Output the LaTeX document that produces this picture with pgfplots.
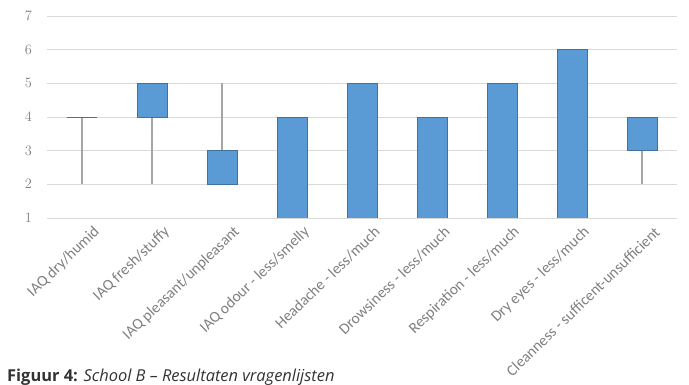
\documentclass[border=0pt]{standalone}
\usepackage{pgfplots}
\pgfplotsset{compat=1.18}
\usepgfplotslibrary{statistics}
\usepackage{fontspec}
\setmainfont{Carlito}
\newfontfamily\capfont{Open Sans}
\definecolor{boxfill}{HTML}{5B9BD5}
\definecolor{boxline}{HTML}{41719C}
\definecolor{whisk}{HTML}{A5A5A5}
\definecolor{gridc}{HTML}{D9D9D9}
\definecolor{lbl}{HTML}{7F7F7F}
\definecolor{capc}{HTML}{333333}
\begin{document}
\begin{tikzpicture}
\useasboundingbox (0,0) rectangle (689bp,385bp);
\begin{axis}[
  at={(47bp,167bp)}, anchor=south west,
  scale only axis, width=630bp, height=202bp,
  xmin=-0.5, xmax=8.5, ymin=1, ymax=7,
  axis line style={draw=none},
  ytick={1,...,7}, ymajorgrids, grid style={gridc, line width=0.8pt},
  xtick={0,...,8},
  xticklabels={IAQ dry/humid, IAQ fresh/stuffy, IAQ pleasant/unpleasant, IAQ odour - less/smelly, Headache - less/much, Drowsiness - less/much, Respiration - less/much, Dry eyes - less/much, Cleanness - sufficent-unsufficient},
  major tick length=0pt,
  tick label style={font=\fontsize{15.5}{17}\selectfont, text=lbl},
  xticklabel style={rotate=44, anchor=east, inner sep=0pt, yshift=-19bp, xshift=3bp},
  yticklabel style={anchor=east, inner sep=0pt, xshift=-15bp},
  boxplot/draw direction=y,
  boxplot/box extend=0.43,
  boxplot/whisker extend=0,
  boxplot/every box/.style={fill=boxfill, draw=boxline, line width=0.8pt},
  boxplot/every whisker/.style={draw=whisk, line width=1.3pt},
  boxplot/every median/.style={draw=boxline, line width=0.8pt},
]
\addplot[boxplot prepared={lower whisker=2, lower quartile=4, median=4, upper quartile=4, upper whisker=4, draw position=0}] coordinates {};
\addplot[boxplot prepared={lower whisker=2, lower quartile=4, median=4, upper quartile=5, upper whisker=5, draw position=1}] coordinates {};
\addplot[boxplot prepared={lower whisker=2, lower quartile=2, median=2, upper quartile=3, upper whisker=5, draw position=2}] coordinates {};
\addplot[boxplot prepared={lower whisker=1, lower quartile=1, median=1, upper quartile=4, upper whisker=4, draw position=3}] coordinates {};
\addplot[boxplot prepared={lower whisker=1, lower quartile=1, median=1, upper quartile=5, upper whisker=5, draw position=4}] coordinates {};
\addplot[boxplot prepared={lower whisker=1, lower quartile=1, median=1, upper quartile=4, upper whisker=4, draw position=5}] coordinates {};
\addplot[boxplot prepared={lower whisker=1, lower quartile=1, median=1, upper quartile=5, upper whisker=5, draw position=6}] coordinates {};
\addplot[boxplot prepared={lower whisker=1, lower quartile=1, median=1, upper quartile=6, upper whisker=6, draw position=7}] coordinates {};
\addplot[boxplot prepared={lower whisker=2, lower quartile=3, median=3, upper quartile=4, upper whisker=4, draw position=8}] coordinates {};
\end{axis}
\node[anchor=base west, inner sep=0pt, text=capc, font=\capfont\fontsize{16.5}{18}\selectfont] at (7bp,3.5bp) {\textbf{Figuur 4:} \textit{School B – Resultaten vragenlijsten}};
\end{tikzpicture}
\end{document}
